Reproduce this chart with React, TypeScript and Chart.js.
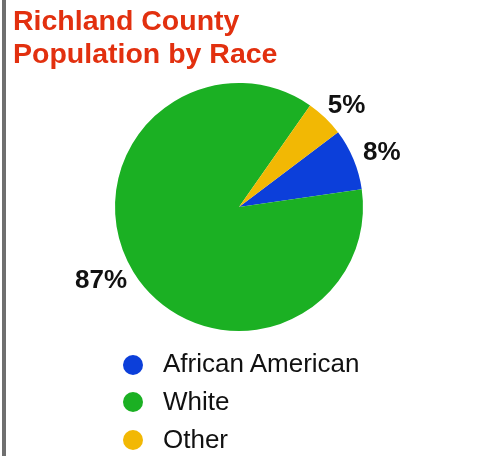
import React, { useEffect, useRef } from "react";
import { Chart, registerables } from "chart.js";
Chart.register(...registerables);

const TITLE_LINES = ["Richland County", "Population by Race"];
const CATEGORIES = ["African American", "White", "Other"];
const PERCENTS = [8, 87, 5];
const COLORS = ["#0c3fda", "#1bb023", "#f2b804"];
const FONT = '"Liberation Sans", Arial, Helvetica, sans-serif';

const outsideLabels = {
  id: "outsideLabels",
  afterDatasetsDraw(chart: any) {
    const ctx = chart.ctx;
    const meta = chart.getDatasetMeta(0);
    ctx.save();
    ctx.font = `bold 26px ${FONT}`;
    ctx.fillStyle = "#111";
    ctx.textAlign = "center";
    ctx.textBaseline = "middle";
    meta.data.forEach((arc: any, i: number) => {
      const { x, y, startAngle, endAngle, outerRadius } = arc.getProps(
        ["x", "y", "startAngle", "endAngle", "outerRadius"],
        true
      );
      const mid = (startAngle + endAngle) / 2;
      const c = Math.cos(mid);
      const s = Math.sin(mid);
      const d = outerRadius + 12;
      const text = PERCENTS[i] + "%";
      const w = ctx.measureText(text).width;
      ctx.fillText(text, x + d * c + (w / 2) * c, y + d * s + 4 * s);
    });
    ctx.restore();
  },
};

export default function App() {
  const ref = useRef<HTMLCanvasElement>(null);
  useEffect(() => {
    if (!ref.current) return;
    const chart = new Chart(ref.current, {
      type: "pie",
      data: {
        labels: CATEGORIES,
        datasets: [
          {
            data: PERCENTS,
            backgroundColor: COLORS,
            borderWidth: 0,
            hoverOffset: 0,
          },
        ],
      },
      options: {
        responsive: false,
        animation: false,
        rotation: 53,
        layout: { padding: { left: 115, right: 116, top: 83, bottom: 125 } },
        plugins: {
          legend: { display: false },
          tooltip: { enabled: false },
          title: { display: false },
        },
      },
      plugins: [outsideLabels],
    });
    return () => chart.destroy();
  }, []);

  return (
    <div style={{ position: "absolute", left: 0, top: 0, width: 479, height: 456, background: "#fff", overflow: "hidden" }}>
      <div style={{ position: "absolute", left: 2, top: 0, width: 4, height: 456, background: "#6f6f6f" }} />
      <canvas ref={ref} width={479} height={456} style={{ position: "absolute", left: 0, top: 0 }} />
      <div
        style={{
          position: "absolute",
          left: 13,
          top: 3.5,
          fontFamily: FONT,
          fontWeight: "bold",
          fontSize: 28.5,
          lineHeight: "33.5px",
          color: "#e2300f",
          whiteSpace: "nowrap",
        }}
      >
        {TITLE_LINES.map((t) => (
          <div key={t}>{t}</div>
        ))}
      </div>
      <div style={{ position: "absolute", left: 123, top: 345.8, fontFamily: FONT, fontSize: 26, color: "#111" }}>
        {CATEGORIES.map((c, i) => (
          <div key={c} style={{ display: "flex", alignItems: "center", height: 37.8 }}>
            <span
              style={{
                display: "inline-block",
                width: 20,
                height: 20,
                borderRadius: 10,
                background: COLORS[i],
                marginRight: 20,
                flexShrink: 0,
              }}
            />
            <span style={{ whiteSpace: "nowrap", position: "relative", top: -1 }}>{c}</span>
          </div>
        ))}
      </div>
    </div>
  );
}
